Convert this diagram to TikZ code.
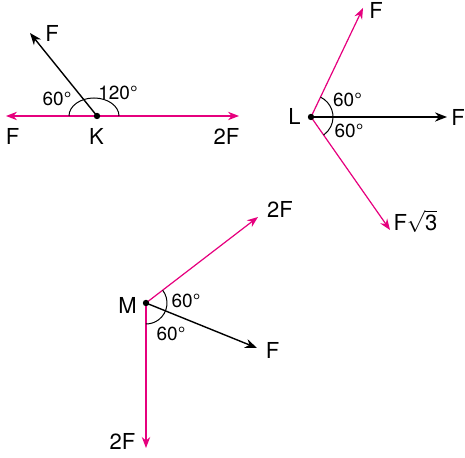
\documentclass[tikz,border=0pt]{standalone}
\usepackage{fontspec}
\setmainfont{TeX Gyre Heros}
\usepackage{xcolor}
\usepackage{tikz}
\usetikzlibrary{arrows.meta, positioning}
\definecolor{vecpink}{RGB}{230,0,126}

\begin{document}
\begin{tikzpicture}[x=0.5pt,y=0.5pt,
        pinkvec/.style={draw=vecpink, line width=0.6pt, -{Stealth[length=5.5pt,width=4.2pt]}, fill=vecpink},
        blackvec/.style={draw=black, line width=0.7pt, -{Stealth[length=6pt,width=4.6pt]}},
        lbl/.style={inner sep=0pt, font=\fontsize{11}{13}\selectfont},
        deg/.style={inner sep=0pt, font=\fontsize{9.5}{11}\selectfont}]
        \useasboundingbox (0,0) rectangle (465,458);

        % K
        \coordinate (K) at (97,342);
        \coordinate (kl) at (6,342);
        \coordinate (kr) at (239,342);
        \coordinate (kf) at (30,425);
        \draw[draw=vecpink, line width=0.6pt, {Stealth[length=5.5pt,width=4.2pt]}-{Stealth[length=5.5pt,width=4.2pt]}, fill=vecpink] (kl) -- (kr);
        \draw[blackvec] (K) -- (kf);
        \draw[line width=0.5pt] ([xshift=11pt]K) arc[start angle=0, end angle=180, x radius=12.5pt, y radius=9pt];
        \fill (K) circle (1.6pt);
        \node (kfl) [lbl] at (52,425) {F};
        \node (kleft) [lbl] at (12.5,321.5) {F};
        \node (kname) [lbl] at (96.5,321.5) {K};
        \node (kright) [lbl] at (226.5,321.5) {2F};
        \node (k60) [deg] at (57,359) {60°};
        \node (k120) [deg] at (118,365) {120°};

        % L
        \coordinate (L) at (311,341);
        \coordinate (lt) at (363,450);
        \coordinate (lr) at (447,341);
        \coordinate (lb) at (390,228);
        \draw[pinkvec] (L) -- (lt);
        \draw[blackvec] (L) -- (lr);
        \draw[pinkvec] (L) -- (lb);
        \draw[line width=0.5pt] (L) ++(64.5:11pt) arc[start angle=64.5, end angle=-55, radius=11pt];
        \fill (L) circle (1.6pt);
        \node (ltl) [lbl] at (376,448) {F};
        \node (lrl) [lbl] at (458,341) {F};
        \node (lbl3) [lbl] at (415.5,236.5) {F\ensuremath{\sqrt{\hbox{3}}}};
        \node (lname) [lbl] at (294.5,341.5) {L};
        \node (l60a) [deg] at (347.5,358) {60°};
        \node (l60b) [deg] at (349,327.5) {60°};

        % M
        \coordinate (M) at (146,155);
        \coordinate (mt) at (258,241);
        \coordinate (mr) at (257,110);
        \coordinate (mb) at (146,10);
        \draw[pinkvec] (M) -- (mt);
        \draw[blackvec] (M) -- (mr);
        \draw[pinkvec] (M) -- (mb);
        \draw[line width=0.5pt] (M) ++(37.5:10.5pt) arc[start angle=37.5, end angle=-90, radius=10.5pt];
        \fill (M) circle (1.6pt);
        \node (mtl) [lbl] at (280,248.5) {2F};
        \node (mrl) [lbl] at (272.5,107.5) {F};
        \node (mbl) [lbl] at (122.5,16.5) {2F};
        \node (mname) [lbl] at (127.5,152.5) {M};
        \node (m60a) [deg] at (186,157.5) {60°};
        \node (m60b) [deg] at (171,124.5) {60°};
    \end{tikzpicture}
\end{document}
